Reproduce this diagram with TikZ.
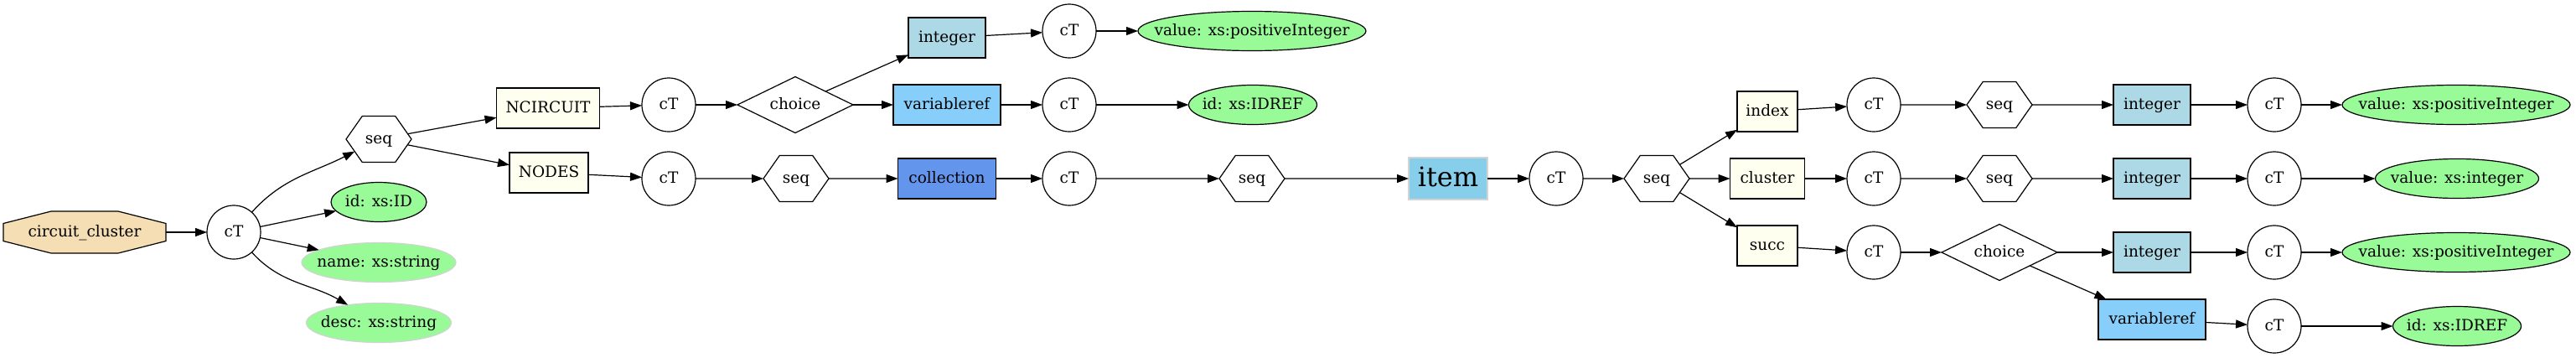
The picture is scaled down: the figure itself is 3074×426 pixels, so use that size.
\documentclass[tikz,border=0pt]{standalone}
\usepackage{fontspec}
\setmainfont{DejaVu Serif}
\usetikzlibrary{arrows.meta,shapes.geometric,shapes.symbols}
\definecolor{wheat}{HTML}{F5DEB3}
\definecolor{ivory}{HTML}{FFFFF0}
\definecolor{lblue}{HTML}{ADD8E6}
\definecolor{lskyblue}{HTML}{87CEFA}
\definecolor{cornflower}{HTML}{6495ED}
\definecolor{skyblue}{HTML}{87CEEB}
\definecolor{palegreen}{HTML}{98FB98}
\definecolor{lgray}{HTML}{D3D3D3}
\begin{document}
\begin{tikzpicture}[x=1pt,y=1pt,
  every node/.style={font=\fontsize{18.5}{22}\selectfont, text height=14pt, text depth=4pt, inner sep=0pt, outer sep=0pt, line width=1.2pt},
  conn/.style={line width=1.2pt, -{Triangle[length=14pt,width=10pt]}},
  ctnode/.style={circle, draw, fill=white, minimum size=64pt},
  hexnode/.style={signal, signal to=east and west, signal pointer angle=110, draw, fill=white, minimum width=78pt, minimum height=55pt},
  choicenode/.style={diamond, draw, fill=white, aspect=2.06, minimum width=138pt, minimum height=67pt},
  elbox/.style={rectangle, draw, fill=ivory, minimum height=48pt},
  intbox/.style={elbox, fill=lblue, minimum width=92pt},
  vrefbox/.style={elbox, fill=lskyblue, minimum width=128pt},
  attr/.style={ellipse, draw, fill=palegreen, minimum height=47pt},
  attrsoft/.style={attr, draw=lgray},
]
\useasboundingbox (0,0) rectangle (3074,-426);

% root octagon
\draw[line width=1.2pt, fill=wheat] (4,-266.5) -- (61,-252) -- (141,-252) -- (198,-266.5) -- (198,-287.5) -- (141,-302) -- (61,-302) -- (4,-287.5) -- cycle;
\node[minimum width=194pt, minimum height=50pt] (cc) at (101,-277) {circuit\_cluster};

\node[ctnode] (ct1) at (279,-277) {cT};
\node[hexnode] (seq1) at (452,-166) {seq};
\node[attr, minimum width=114pt, label=center:{id: xs:ID}] (id1) at (452,-241) {};
\node[attrsoft, minimum width=184pt, label=center:{name: xs:string}] (name) at (452,-313) {};
\node[attrsoft, minimum width=173pt, label=center:{desc: xs:string}] (desc) at (452,-385) {};

\node[elbox, minimum width=123pt] (ncircuit) at (654,-129) {NCIRCUIT};
\node[elbox, minimum width=94pt] (nodes) at (655,-206) {NODES};
\node[ctnode] (ct2) at (798,-125) {cT};
\node[ctnode] (ct3) at (798,-213) {cT};
\node[choicenode] (ch1) at (949,-125) {choice};
\node[intbox] (int1) at (1130,-45) {integer};
\node[vrefbox] (vref1) at (1130,-125) {variableref};
\node[ctnode] (ct4) at (1276,-37) {cT};
\node[ctnode] (ct5) at (1276,-125) {cT};
\node[attr, minimum width=272pt, label=center:{value: xs:positiveInteger}] (val1) at (1494,-37) {};
\node[attr, minimum width=153pt, label=center:{id: xs:IDREF}] (idref1) at (1495,-125) {};

\node[hexnode] (seq2) at (950,-213) {seq};
\node[elbox, fill=cornflower, minimum width=117pt] (coll) at (1130,-213) {collection};
\node[ctnode] (ct6) at (1276,-213) {cT};
\node[hexnode] (seq3) at (1494,-213) {seq};
\node[elbox, fill=skyblue, draw=lgray, minimum width=94pt, minimum height=50pt, font=\fontsize{32}{36}\selectfont, text height=24pt, text depth=6pt] (item) at (1728,-213) {item};
\node[ctnode] (ct7) at (1857,-213) {cT};
\node[hexnode] (seq4) at (1977,-213) {seq};

\node[elbox, minimum width=72pt] (index) at (2109,-133) {index};
\node[elbox, minimum width=89pt] (cluster) at (2109,-213) {cluster};
\node[elbox, minimum width=72pt] (succ) at (2109,-293) {succ};
\node[ctnode] (ct8) at (2236,-125) {cT};
\node[ctnode] (ct9) at (2236,-213) {cT};
\node[ctnode] (ct10) at (2236,-301) {cT};
\node[hexnode] (seq5) at (2386,-125) {seq};
\node[hexnode] (seq6) at (2386,-213) {seq};
\node[choicenode] (ch2) at (2386,-301) {choice};
\node[intbox] (int2) at (2568,-125) {integer};
\node[intbox] (int3) at (2568,-213) {integer};
\node[intbox] (int4) at (2568,-301) {integer};
\node[vrefbox] (vref2) at (2568,-381) {variableref};
\node[ctnode] (ct11) at (2714,-125) {cT};
\node[ctnode] (ct12) at (2714,-213) {cT};
\node[ctnode] (ct13) at (2714,-301) {cT};
\node[ctnode] (ct14) at (2714,-389) {cT};
\node[attr, minimum width=272pt, label=center:{value: xs:positiveInteger}] (val2) at (2931,-125) {};
\node[attr, minimum width=195pt, label=center:{value: xs:integer}] (valint) at (2932,-213) {};
\node[attr, minimum width=272pt, label=center:{value: xs:positiveInteger}] (val3) at (2931,-301) {};
\node[attr, minimum width=153pt, label=center:{id: xs:IDREF}] (idref2) at (2932,-389) {};

% connectors
\draw[conn] (cc) -- (ct1);
\draw[conn] (ct1) to[out=48,in=-153] (seq1);
\draw[conn] (ct1) -- (id1);
\draw[conn] (ct1) -- (name);
\draw[conn] (ct1) to[out=-48,in=150] (desc);
\draw[conn] (seq1) -- (ncircuit);
\draw[conn] (seq1) -- (nodes);
\draw[conn] (ncircuit) -- (ct2);
\draw[conn] (nodes) -- (ct3);
\draw[conn] (ct2) -- (ch1);
\draw[conn] (ch1) -- (int1);
\draw[conn] (ch1) -- (vref1);
\draw[conn] (int1) -- (ct4);
\draw[conn] (vref1) -- (ct5);
\draw[conn] (ct4) -- (val1);
\draw[conn] (ct5) -- (idref1);
\draw[conn] (ct3) -- (seq2);
\draw[conn] (seq2) -- (coll);
\draw[conn] (coll) -- (ct6);
\draw[conn] (ct6) -- (seq3);
\draw[conn] (seq3) -- (item);
\draw[conn] (item) -- (ct7);
\draw[conn] (ct7) -- (seq4);
\draw[conn] (seq4) -- (index);
\draw[conn] (seq4) -- (cluster);
\draw[conn] (seq4) -- (succ);
\draw[conn] (index) -- (ct8);
\draw[conn] (cluster) -- (ct9);
\draw[conn] (succ) -- (ct10);
\draw[conn] (ct8) -- (seq5);
\draw[conn] (ct9) -- (seq6);
\draw[conn] (ct10) -- (ch2);
\draw[conn] (seq5) -- (int2);
\draw[conn] (seq6) -- (int3);
\draw[conn] (ch2) -- (int4);
\draw[conn] (ch2) -- (vref2);
\draw[conn] (int2) -- (ct11);
\draw[conn] (int3) -- (ct12);
\draw[conn] (int4) -- (ct13);
\draw[conn] (vref2) -- (ct14);
\draw[conn] (ct11) -- (val2);
\draw[conn] (ct12) -- (valint);
\draw[conn] (ct13) -- (val3);
\draw[conn] (ct14) -- (idref2);
\end{tikzpicture}
\end{document}
